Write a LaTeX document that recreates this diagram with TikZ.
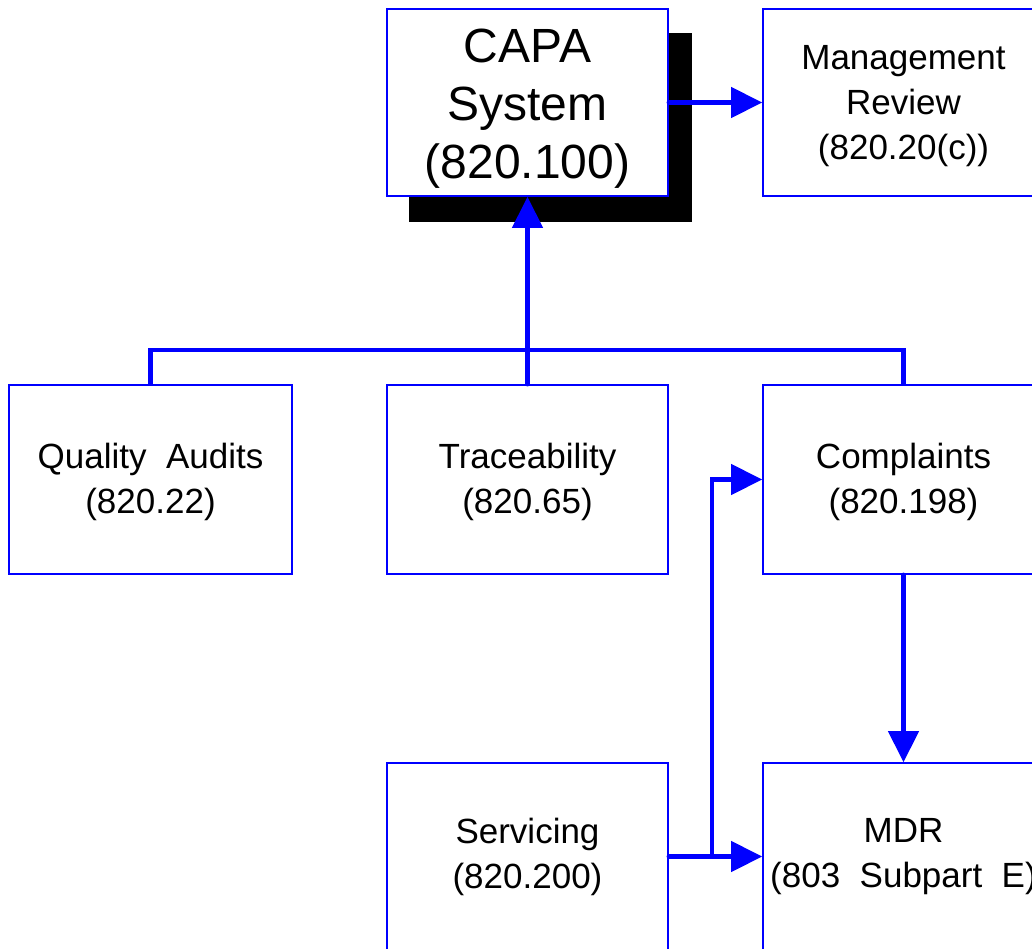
\documentclass[tikz,border=0pt]{standalone}
\usepackage{fontspec}
\setmainfont{Liberation Sans}
\usetikzlibrary{arrows.meta}
% invisible strut that lowers a centred text block a little
\newcommand\firstline[1]{\rule{0pt}{#1}}
\begin{document}
\begin{tikzpicture}[x=1pt,y=-1pt,
  box/.style={draw=blue, line width=1.6pt, fill=white, minimum width=281pt,
    minimum height=187pt, inner sep=0pt, align=center,
    font=\fontsize{35}{45}\selectfont},
  bigbox/.style={box, font=\fontsize{48}{58}\selectfont},
  link/.style={draw=blue, line width=4.5pt, line cap=round},
  arr/.style={link, -{Triangle[length=31pt,width=30pt]}}]
\useasboundingbox (0,0) rectangle (1032,948);

% drop shadow of the main box
\fill[black] (409,33) rectangle (692,222);

\node[bigbox] (capa) at (527.5,102.5) {\firstline{46pt}CAPA\\System\\(820.100)};
\node[box] (mgmt) at (903.5,102.5) {\firstline{32pt}Management\\Review\\(820.20(c))};

\node[box, minimum width=283pt, minimum height=189pt] (qa) at (150.5,479.5) {\firstline{31pt}Quality~~Audits\\(820.22)};
\node[box, minimum height=189pt] (trace) at (527.5,479.5) {\firstline{31pt}Traceability\\(820.65)};
\node[box, minimum height=189pt] (compl) at (903.5,479.5) {\firstline{31pt}Complaints\\(820.198)};

\node[box] (serv) at (527.5,856.5) {Servicing\\(820.200)};
\node[box] (mdr) at (903.5,856.5) {MDR\\(803~~Subpart~~E)};

% connectors
\coordinate (bus) at (527,350);
\coordinate (split) at (712,855);

\draw[arr] (capa.east) -- (mgmt.west);
\draw[link, line cap=butt] (qa.north) |- (bus) -| (compl.north);
\draw[arr] (trace.north) -- (capa.south);
\draw[arr] (compl.south) -- (mdr.north);
\draw[arr] (serv.east) -- (mdr.west);
\draw[arr] (split) |- (compl.west);
\end{tikzpicture}
\end{document}
